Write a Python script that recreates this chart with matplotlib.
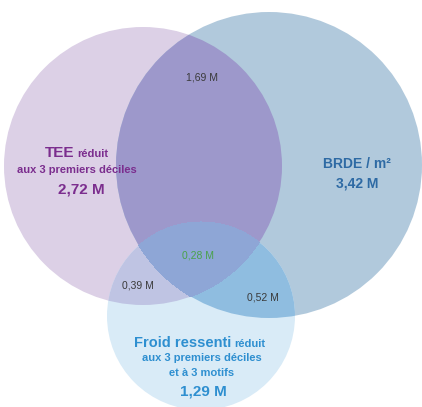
import numpy as np
import matplotlib
matplotlib.use('Agg')
import matplotlib.pyplot as plt
from matplotlib.patches import Circle

plt.rcParams['font.family'] = ['Liberation Sans', 'DejaVu Sans']

# circle geometry in picture pixels (x, y from top, radius)
set_names = ['TEE', 'BRDE', 'Froid']
centers = [(143, 166), (269, 165), (201, 316)]
radii = [139, 153, 94]

# region colours
col_tee = '#dcd0e6'
col_brde = '#b1c9dc'
col_froid = '#d9ebf7'
col_tee_brde = '#9d98cb'
col_tee_froid = '#bfc4e3'
col_brde_froid = '#8fbde0'
col_all = '#8ea6d6'

# region sizes (millions)
only_tee = '2,72 M'
only_brde = '3,42 M'
only_froid = '1,29 M'
tee_brde = '1,69 M'
tee_froid = '0,39 M'
brde_froid = '0,52 M'
all_three = '0,28 M'

fig = plt.figure(figsize=(4.22, 4.07), dpi=100)
ax = fig.add_axes([0, 0, 1, 1])
ax.set_xlim(0, 422)
ax.set_ylim(407, 0)
ax.set_aspect('equal')
ax.axis('off')

def circ(i, color, z, clip=None):
    c = Circle(centers[i], radii[i], facecolor=color, edgecolor='none', zorder=z)
    ax.add_patch(c)
    if clip is not None:
        c.set_clip_path(Circle(centers[clip], radii[clip], transform=ax.transData))
    return c

# single sets
circ(0, col_tee, 1)
circ(1, col_brde, 1)
circ(2, col_froid, 1)

# pairwise overlaps
circ(1, col_tee_brde, 2, clip=0)
circ(2, col_tee_froid, 2, clip=0)
circ(2, col_brde_froid, 2, clip=1)

# triple overlap (fill where inside all three)
xs, ys = np.meshgrid(np.arange(0, 422, 0.25), np.arange(0, 407, 0.25))
inside = np.ones_like(xs, dtype=bool)
for (cx, cy), r in zip(centers, radii):
    inside &= (xs - cx) ** 2 + (ys - cy) ** 2 <= r ** 2
ax.contourf(xs, ys, inside.astype(float), levels=[0.5, 1.5], colors=[col_all], zorder=3)

purple = '#7b2d8e'
dblue = '#2e6aa4'
lblue = '#2e8fd0'
grey = '#3a3a3a'

# TEE label
ax.text(74, 153, 'TEE', color=purple, fontsize=11, fontweight='bold', ha='right', va='center', zorder=5)
ax.text(77, 154, 'réduit', color=purple, fontsize=8, fontweight='bold', ha='left', va='center', zorder=5)
ax.text(77, 170, 'aux 3 premiers déciles', color=purple, fontsize=8, fontweight='bold', ha='center', va='center', zorder=5)
ax.text(81, 190, only_tee, color=purple, fontsize=11, fontweight='bold', ha='center', va='center', zorder=5)

# BRDE label
ax.text(357, 164, 'BRDE / m²', color=dblue, fontsize=10, fontweight='bold', ha='center', va='center', zorder=5)
ax.text(357, 183, only_brde, color=dblue, fontsize=10, fontweight='bold', ha='center', va='center', zorder=5)

# Froid label
ax.text(231, 343, 'Froid ressenti', color=lblue, fontsize=10.5, fontweight='bold', ha='right', va='center', zorder=5)
ax.text(234, 344, 'réduit', color=lblue, fontsize=8, fontweight='bold', ha='left', va='center', zorder=5)
ax.text(202, 358, 'aux 3 premiers déciles', color=lblue, fontsize=8, fontweight='bold', ha='center', va='center', zorder=5)
ax.text(202, 373, 'et à 3 motifs', color=lblue, fontsize=8, fontweight='bold', ha='center', va='center', zorder=5)
ax.text(203, 392, only_froid, color=lblue, fontsize=11, fontweight='bold', ha='center', va='center', zorder=5)

# overlap labels
ax.text(202, 77, tee_brde, color=grey, fontsize=7.5, ha='center', va='center', zorder=5)
ax.text(198, 255, all_three, color='#4aa24a', fontsize=7.5, ha='center', va='center', zorder=5)
ax.text(138, 285, tee_froid, color=grey, fontsize=7.5, ha='center', va='center', zorder=5)
ax.text(263, 297, brde_froid, color=grey, fontsize=7.5, ha='center', va='center', zorder=5)

plt.savefig('out.png', dpi=100)
